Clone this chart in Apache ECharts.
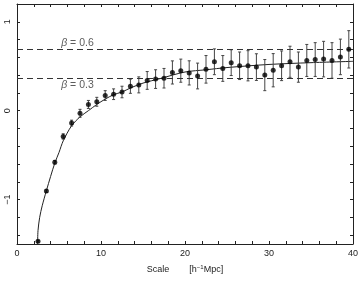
<!DOCTYPE html>
<html>
<head>
<meta charset="utf-8">
<script src="https://cdn.jsdelivr.net/npm/echarts@6/dist/echarts.min.js"></script>
<style>
  html, body { margin: 0; padding: 0; background: #fff; }
  #chart { width: 362px; height: 281px; }
</style>
</head>
<body>
<div id="chart"></div>
<script>
// measured points (scale, value, error)
const scales = [2.5, 3.5, 4.5, 5.5, 6.5, 7.5, 8.5, 9.5, 10.5, 11.5, 12.5, 13.5, 14.5, 15.5, 16.5, 17.5, 18.5, 19.5,
  20.5, 21.5, 22.5, 23.5, 24.5, 25.5, 26.5, 27.5, 28.5, 29.5, 30.5, 31.5, 32.5, 33.5, 34.5, 35.5, 36.5, 37.5, 38.5, 39.5];
const values = [-1.47, -0.905, -0.58, -0.29, -0.14, -0.03, 0.07, 0.10, 0.17, 0.185, 0.21, 0.275, 0.29, 0.34, 0.355, 0.365, 0.43, 0.45,
  0.425, 0.39, 0.465, 0.55, 0.475, 0.54, 0.505, 0.505, 0.49, 0.40, 0.455, 0.505, 0.55, 0.49, 0.565, 0.575, 0.58, 0.565, 0.605, 0.69];
const errors = [0.01, 0.015, 0.02, 0.03, 0.033, 0.045, 0.045, 0.05, 0.055, 0.06, 0.065, 0.08, 0.09, 0.1, 0.105, 0.11, 0.13, 0.13,
  0.136, 0.145, 0.155, 0.145, 0.145, 0.145, 0.155, 0.17, 0.15, 0.175, 0.187, 0.167, 0.175, 0.17, 0.18, 0.19, 0.2, 0.2, 0.2, 0.21];

// model curve
const curveX = [2.45, 2.5, 2.7, 3.0, 3.5, 4.0, 4.5, 5.0, 5.5, 6.5, 7.5, 8.5, 9.5, 10.5, 11.5, 12.5, 13.5, 15, 17, 20, 22.5, 25, 30, 35, 40];
const curveY = [-1.5, -1.35, -1.2, -1.07, -0.9, -0.74, -0.59, -0.47, -0.34, -0.17, -0.07, 0.0, 0.07, 0.13, 0.18, 0.21, 0.255, 0.31, 0.36, 0.435, 0.46, 0.485, 0.52, 0.54, 0.555];

// reference beta levels
const betaNames = ['0.6', '0.3'];
const betaLevels = [0.69, 0.37];

const xTicks = [0, 2, 4, 6, 8, 10, 12, 14, 16, 18, 20, 22, 24, 26, 28, 30, 32, 34, 36, 38, 40];
const xLabels = [0, 10, 20, 30, 40];
const yTicks = [-1.4, -1.2, -1, -0.8, -0.6, -0.4, -0.2, 0, 0.2, 0.4, 0.6, 0.8, 1, 1.2];
const yLabels = [-1, 0, 1];

const chart = echarts.init(document.getElementById('chart'));
const font = 'Liberation Sans';
const ink = '#222';

const tickX = { show: true, inside: true, length: 3, customValues: xTicks, lineStyle: { color: ink, width: 1 } };
const tickY = { show: true, inside: true, length: 3, customValues: yTicks, lineStyle: { color: ink, width: 1 } };
const axisLine = { show: true, onZero: false, lineStyle: { color: ink, width: 1 } };

const points = scales.map((s, i) => [s, values[i], errors[i]]);

const option = {
  animation: false,
  backgroundColor: '#fff',
  textStyle: { fontFamily: font },
  grid: { left: 17, right: 9, top: 4, bottom: 31, containLabel: false },
  xAxis: [{
    type: 'value', min: 0, max: 40, position: 'bottom',
    axisLine: axisLine, axisTick: tickX, splitLine: { show: false },
    axisLabel: { customValues: xLabels, color: ink, fontSize: 9, fontFamily: font, margin: 5 },
    name: '{a|Scale}      {a|[h}{s|−1}{a|Mpc]}',
    nameLocation: 'middle', nameGap: 20,
    nameTextStyle: {
      rich: {
        a: { fontSize: 9, color: ink, fontFamily: font },
        s: { fontSize: 6, color: ink, fontFamily: font, verticalAlign: 'top', padding: [0, 0, 4, 0] }
      }
    }
  }, {
    type: 'value', min: 0, max: 40, position: 'top',
    axisLine: axisLine, axisTick: tickX, splitLine: { show: false }, axisLabel: { show: false }
  }],
  yAxis: [{
    type: 'value', min: -1.5, max: 1.2, position: 'left',
    axisLine: axisLine, axisTick: tickY, splitLine: { show: false },
    axisLabel: {
      customValues: yLabels, color: ink, fontSize: 9, fontFamily: font, rotate: 90, margin: 5,
      formatter: v => (v < 0 ? '−' + Math.abs(v) : String(v))
    }
  }, {
    type: 'value', min: -1.5, max: 1.2, position: 'right',
    axisLine: axisLine, axisTick: tickY, splitLine: { show: false }, axisLabel: { show: false }
  }],
  series: [
    {
      type: 'line', data: betaLevels.map(v => [0, v]), symbol: 'none', silent: true,
      lineStyle: { width: 0 },
      markLine: {
        symbol: 'none', silent: true,
        lineStyle: { color: '#333', width: 1, type: [6, 4] },
        label: { show: false },
        data: betaLevels.map(v => ({ yAxis: v }))
      }
    },
    {
      type: 'scatter', symbolSize: 0, silent: true,
      data: betaLevels.map((v, i) => ({
        value: [7.2, v],
        label: {
          show: true, formatter: '{b|β} = ' + betaNames[i], position: i === 0 ? 'top' : 'bottom', distance: i === 0 ? 1 : 2,
          color: '#333', fontSize: 10.5, fontFamily: font,
          rich: { b: { fontStyle: 'italic', fontSize: 10.5, color: '#333', fontFamily: font } }
        }
      }))
    },
    {
      type: 'line', data: curveX.map((x, i) => [x, curveY[i]]), symbol: 'none', smooth: 0.3, silent: true,
      lineStyle: { color: ink, width: 1 }, z: 3
    },
    {
      type: 'custom', data: points, z: 4, silent: true,
      renderItem: (params, api) => {
        const x = api.value(0), y = api.value(1), e = api.value(2);
        const lo = api.coord([x, y - e]);
        const hi = api.coord([x, y + e]);
        const cap = 1.5;
        const style = { stroke: '#444', lineWidth: 1 };
        return {
          type: 'group',
          children: [
            { type: 'line', shape: { x1: lo[0], y1: lo[1], x2: hi[0], y2: hi[1] }, style: style },
            { type: 'line', shape: { x1: lo[0] - cap, y1: lo[1], x2: lo[0] + cap, y2: lo[1] }, style: style },
            { type: 'line', shape: { x1: hi[0] - cap, y1: hi[1], x2: hi[0] + cap, y2: hi[1] }, style: style }
          ]
        };
      },
      encode: { x: 0, y: 1 }
    },
    {
      type: 'scatter', data: points.map(p => [p[0], p[1]]), symbol: 'circle', symbolSize: 5, z: 5, silent: true,
      itemStyle: { color: '#000' }
    }
  ]
};

chart.setOption(option);
</script>
</body>
</html>
